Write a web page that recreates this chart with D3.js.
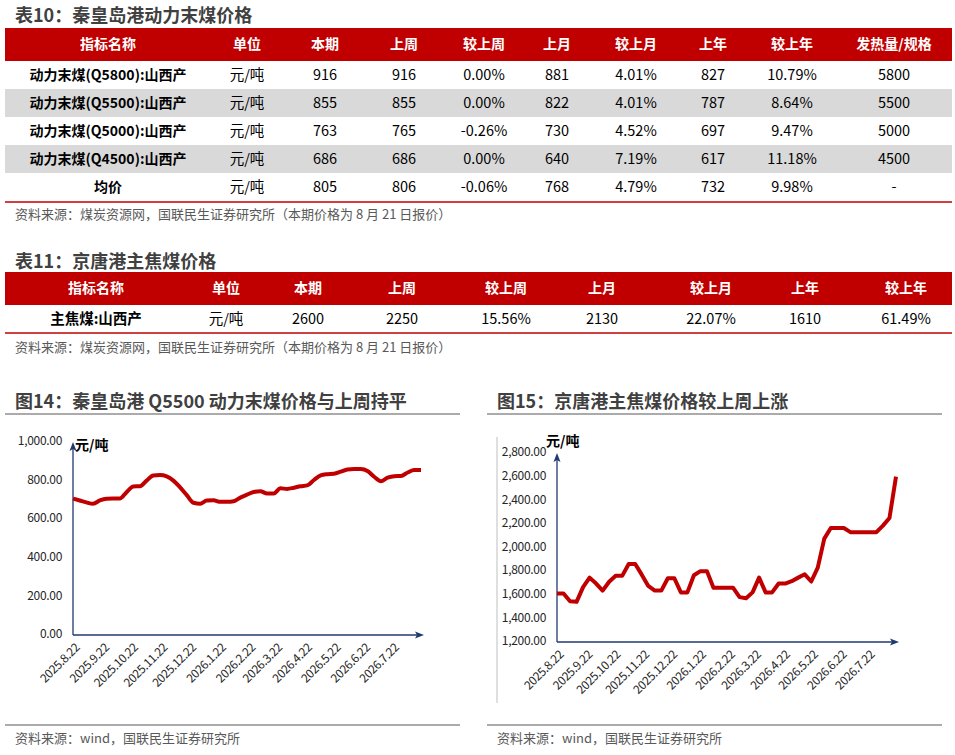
<!DOCTYPE html>
<html><head><meta charset="utf-8">
<script src="https://cdn.jsdelivr.net/npm/d3@7"></script>
<style>
body{margin:0;background:#fff}
svg{display:block}
text{font-family:"Noto Sans CJK SC","Noto Sans",sans-serif}
</style>
</head><body><svg id="c" width="955" height="755"></svg>
<script>
// ---------------- DATA ----------------
const t10Title = "表10：秦皇岛港动力末煤价格";
const t10Headers = ["指标名称","单位","本期","上周","较上周","上月","较上月","上年","较上年","发热量/规格"];
const t10Names = ["动力末煤(Q5800):山西产","动力末煤(Q5500):山西产","动力末煤(Q5000):山西产","动力末煤(Q4500):山西产","均价"];
const t10Units = ["元/吨","元/吨","元/吨","元/吨","元/吨"];
const t10Current = ["916","855","763","686","805"];
const t10LastWeek = ["916","855","765","686","806"];
const t10WoW = ["0.00%","0.00%","-0.26%","0.00%","-0.06%"];
const t10LastMonth = ["881","822","730","640","768"];
const t10MoM = ["4.01%","4.01%","4.52%","7.19%","4.79%"];
const t10LastYear = ["827","787","697","617","732"];
const t10YoY = ["10.79%","8.64%","9.47%","11.18%","9.98%"];
const t10Spec = ["5800","5500","5000","4500","-"];
const t10Source = "资料来源：煤炭资源网，国联民生证券研究所（本期价格为 8 月 21 日报价）";

const t11Title = "表11：京唐港主焦煤价格";
const t11Headers = ["指标名称","单位","本期","上周","较上周","上月","较上月","上年","较上年"];
const t11Row = ["主焦煤:山西产","元/吨","2600","2250","15.56%","2130","22.07%","1610","61.49%"];
const t11Source = "资料来源：煤炭资源网，国联民生证券研究所（本期价格为 8 月 21 日报价）";

const fig14Title = "图14：秦皇岛港 Q5500 动力末煤价格与上周持平";
const fig15Title = "图15：京唐港主焦煤价格较上周上涨";
const figSource = "资料来源：wind，国联民生证券研究所";
const unitLabel = "元/吨";

const firstWeek = "2025-08-22"; // weekly observations, one per week
const q5500Prices = [707,697,687,680,697,706,707,707,740,770,771,800,827,829,822,800,765,725,685,680,
  697,698,690,690,693,712,727,741,745,733,733,760,757,763,771,775,803,827,833,835,
  846,858,860,860,850,820,797,815,823,824,842,855,855];
const cokingPrices = [1610,1610,1545,1540,1665,1745,1695,1635,1710,1760,1760,1860,1860,1770,1675,1635,1635,1740,1740,1620,
  1620,1765,1800,1800,1660,1660,1660,1660,1580,1570,1620,1745,1620,1620,1695,1695,1715,1745,1773,1712,
  1830,2075,2165,2165,2165,2130,2130,2130,2130,2130,2185,2250,2600];
const xTickLabels = ["2025.8.22","2025.9.22","2025.10.22","2025.11.22","2025.12.22","2026.1.22","2026.2.22","2026.3.22","2026.4.22","2026.5.22","2026.6.22","2026.7.22"];
const fig14YTicks = [0,200,400,600,800,1000];
const fig15YTicks = [1200,1400,1600,1800,2000,2200,2400,2600,2800];

// ---------------- DRAW ----------------
const svg = d3.select("#c");
const RED = "#C00000", GRAY_ROW = "#D9D9D9", TITLE = "#404040", SRC = "#595959", NAVY = "#1F3A70";

function title(x, y, s) {
  svg.append("text").attr("x", x).attr("y", y).attr("font-size", 18).attr("font-weight", "bold")
    .attr("fill", TITLE).attr("dominant-baseline", "middle").text(s);
}
function source(x, y, s) {
  svg.append("text").attr("x", x).attr("y", y).attr("font-size", 13).attr("fill", SRC)
    .attr("dominant-baseline", "middle").text(s);
}

// Table 10
title(15, 17, t10Title);
const t10Cols = [108, 247, 325, 404, 484, 557, 636, 713, 792, 894];
svg.append("rect").attr("x", 5).attr("y", 28).attr("width", 947).attr("height", 33).attr("fill", RED);
svg.selectAll(".h10").data(t10Headers).join("text")
  .attr("x", (d, i) => t10Cols[i]).attr("y", 45).attr("text-anchor", "middle").attr("dominant-baseline", "middle")
  .attr("font-size", 14).attr("font-weight", "bold").attr("fill", "#fff").text(d => d);
const t10Rows = t10Names.map((n, i) => [n, t10Units[i], t10Current[i], t10LastWeek[i], t10WoW[i], t10LastMonth[i], t10MoM[i], t10LastYear[i], t10YoY[i], t10Spec[i]]);
t10Rows.forEach((row, r) => {
  const y0 = 61 + r * 28;
  if (r % 2 === 1) svg.append("rect").attr("x", 5).attr("y", y0).attr("width", 947).attr("height", 28).attr("fill", GRAY_ROW);
  row.forEach((v, c) => {
    svg.append("text").attr("x", t10Cols[c]).attr("y", y0 + 15).attr("text-anchor", "middle").attr("dominant-baseline", "middle")
      .attr("font-size", c === 0 ? 14 : 14.5).attr("font-weight", c === 0 ? "bold" : "normal").attr("fill", "#000").text(v);
  });
});
svg.append("line").attr("x1", 5).attr("x2", 952).attr("y1", 202).attr("y2", 202).attr("stroke", RED).attr("stroke-width", 1.5);
source(15, 215, t10Source);

// Table 11
title(15, 263, t11Title);
const t11Cols = [96, 226, 308, 402, 506, 602, 711, 805, 906];
svg.append("rect").attr("x", 5).attr("y", 272).attr("width", 947).attr("height", 33).attr("fill", RED);
svg.selectAll(".h11").data(t11Headers).join("text")
  .attr("x", (d, i) => t11Cols[i]).attr("y", 289).attr("text-anchor", "middle").attr("dominant-baseline", "middle")
  .attr("font-size", 14).attr("font-weight", "bold").attr("fill", "#fff").text(d => d);
t11Row.forEach((v, c) => {
  svg.append("text").attr("x", t11Cols[c]).attr("y", 320).attr("text-anchor", "middle").attr("dominant-baseline", "middle")
    .attr("font-size", 14.5).attr("font-weight", c === 0 ? "bold" : "normal").attr("fill", "#000").text(v);
});
svg.append("line").attr("x1", 5).attr("x2", 952).attr("y1", 333).attr("y2", 333).attr("stroke", RED).attr("stroke-width", 1.5);
source(15, 348, t11Source);

// Charts
const parse = d3.timeParse("%Y-%m-%d");
const parseTick = d3.timeParse("%Y.%m.%d");
const start = parse(firstWeek);
const weeks = q5500Prices.map((_, i) => d3.timeDay.offset(start, 7 * i));
const tickDates = xTickLabels.map(parseTick);

function chart(o) {
  title(o.tx, 403, o.title);
  svg.append("line").attr("x1", o.ulx0).attr("x2", o.ulx1).attr("y1", 414).attr("y2", 414).attr("stroke", "#595959").attr("stroke-width", 1.2);
  svg.append("line").attr("x1", o.ulx0).attr("x2", o.ulx1).attr("y1", 725).attr("y2", 725).attr("stroke", "#595959").attr("stroke-width", 1.2);
  source(o.tx, 739, figSource);

  const x = d3.scaleTime().domain([weeks[0], weeks[weeks.length - 1]]).range([o.x0, o.x1]);
  const y = d3.scaleLinear().domain(o.ydom).range([o.yb, o.yt]);
  const g = svg.append("g");

  // y tick labels
  const fmt = d3.format(",.2f");
  g.selectAll(".yt").data(o.yticks).join("text")
    .attr("x", o.x0 - 11).attr("y", d => y(d)).attr("text-anchor", "end").attr("dominant-baseline", "middle")
    .attr("font-size", 12).attr("fill", "#262626").attr("font-family", "'Noto Sans','DejaVu Sans',sans-serif")
    .attr("letter-spacing", -0.3).text(d => fmt(d));

  // x tick labels
  g.selectAll(".xt").data(tickDates).join("text")
    .attr("transform", (d, i) => `translate(${x(d) + 5},${o.yb + 11}) rotate(-45)`)
    .attr("text-anchor", "end").attr("dominant-baseline", "middle")
    .attr("font-size", 12).attr("fill", "#262626").attr("font-family", "'Noto Sans','DejaVu Sans',sans-serif")
    .attr("letter-spacing", -0.4).text((d, i) => xTickLabels[i]);

  // axes with arrows
  g.append("line").attr("x1", o.x0).attr("x2", o.x0).attr("y1", o.yb).attr("y2", o.yt + 3).attr("stroke", NAVY).attr("stroke-width", 1.3);
  g.append("line").attr("x1", o.x0).attr("x2", o.xa - 3).attr("y1", o.yb).attr("y2", o.yb).attr("stroke", NAVY).attr("stroke-width", 1.3);
  g.append("path").attr("d", `M${o.x0},${o.yt} L${o.x0 - 3.5},${o.yt + 9} L${o.x0},${o.yt + 7} L${o.x0 + 3.5},${o.yt + 9} Z`).attr("fill", NAVY);
  g.append("path").attr("d", `M${o.xa},${o.yb} L${o.xa - 9},${o.yb - 3.5} L${o.xa - 7},${o.yb} L${o.xa - 9},${o.yb + 3.5} Z`).attr("fill", NAVY);

  // unit
  g.append("text").attr("x", o.ux).attr("y", o.uy).attr("font-size", 14).attr("font-weight", "bold").attr("fill", "#000")
    .attr("dominant-baseline", "middle").text(unitLabel);

  // line
  const line = d3.line().x((d, i) => x(weeks[i])).y(d => y(d)).curve(o.curve);
  g.append("path").datum(o.values).attr("d", line).attr("fill", "none").attr("stroke", RED)
    .attr("stroke-width", 4).attr("stroke-linejoin", "round").attr("stroke-linecap", "butt");
}

chart({ title: fig14Title, tx: 15, ulx0: 5, ulx1: 460, x0: 73, x1: 421, xa: 424, yb: 635, yt: 442,
  ydom: [0, 1000], yticks: fig14YTicks, values: q5500Prices, ux: 75, uy: 446, curve: d3.curveMonotoneX });

chart({ title: fig15Title, tx: 497, ulx0: 487, ulx1: 942, x0: 557, x1: 896, xa: 899, yb: 642, yt: 453,
  ydom: [1200, 2800], yticks: fig15YTicks, values: cokingPrices, ux: 546, uy: 442, curve: d3.curveLinear });
// thin frame line at left of chart 15
svg.append("line").attr("x1", 497).attr("x2", 497).attr("y1", 437).attr("y2", 703).attr("stroke", "#BFBFBF").attr("stroke-width", 1);
</script>
</body></html>
